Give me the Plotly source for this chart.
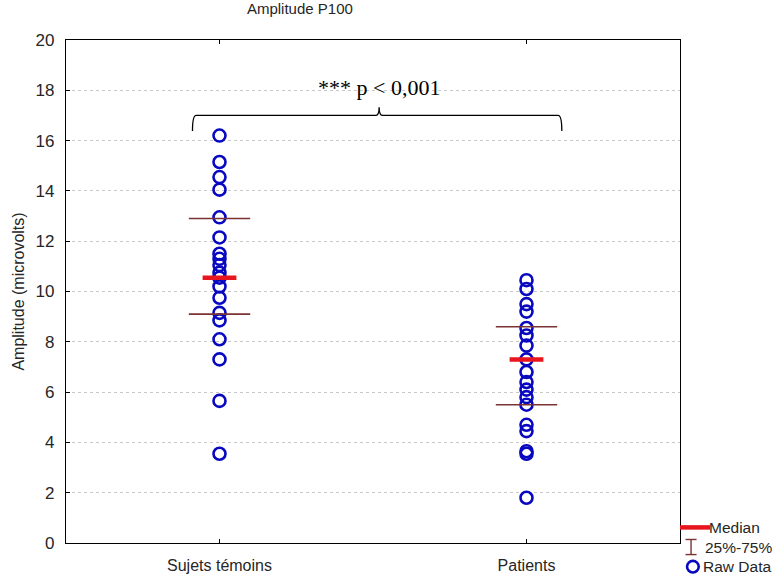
import plotly.graph_objects as go

# ---- data ----
groups = ["Sujets témoins", "Patients"]
temoins = [16.2, 15.15, 14.55, 14.05, 12.95, 12.15, 11.5, 11.3, 11.05, 10.75,
           10.55, 10.2, 9.75, 9.15, 8.85, 8.1, 7.3, 5.65, 3.55]
patients = [10.45, 10.1, 9.5, 9.2, 8.55, 8.25, 7.85, 7.3, 6.8, 6.4, 6.1, 5.8,
            5.5, 4.7, 4.45, 3.65, 3.55, 1.8]
medians = [10.55, 7.3]
q1 = [9.1, 5.5]
q3 = [12.9, 8.6]
yticks = [0, 2, 4, 6, 8, 10, 12, 14, 16, 18, 20]

FONT = "Liberation Sans, Arial, sans-serif"
BLUE = "#0808c0"
RED = "#e8141e"
BROWN = "#7a3232"
TXT = "#262626"

fig = go.Figure()

# raw data
for i, vals in enumerate([temoins, patients]):
    fig.add_trace(go.Scatter(
        x=[i] * len(vals), y=vals, mode="markers",
        marker=dict(symbol="circle-open", size=12, color=BLUE,
                    line=dict(width=2.6, color=BLUE)),
        showlegend=False, hoverinfo="y"))

# quartile lines and medians
half_q = 0.1
half_m = 0.055
for i in range(len(groups)):
    for q in (q1[i], q3[i]):
        fig.add_trace(go.Scatter(
            x=[i - half_q, i + half_q], y=[q, q], mode="lines",
            line=dict(color=BROWN, width=1.6), showlegend=False, hoverinfo="y"))
    fig.add_trace(go.Scatter(
        x=[i - half_m, i + half_m], y=[medians[i], medians[i]], mode="lines",
        line=dict(color=RED, width=4.5), showlegend=False, hoverinfo="y"))

# significance brace
x0, x1, xm = -0.088, 1.115, 0.52
yb, yt, yp = 16.38, 17.0, 17.33
r = 0.012
path = (f"M {x0},{yb} Q {x0},{yt} {x0 + r},{yt} L {xm - r},{yt} "
        f"Q {xm},{yt} {xm},{yp} Q {xm},{yt} {xm + r},{yt} "
        f"L {x1 - r},{yt} Q {x1},{yt} {x1},{yb}")
fig.add_shape(type="path", path=path, xref="x", yref="y",
              line=dict(color="black", width=1.3))
fig.add_annotation(x=xm, y=18.1, xref="x", yref="y", yanchor="middle",
                   text="*** p < 0,001", showarrow=False,
                   font=dict(family="Liberation Serif, Times New Roman, serif",
                             size=22, color="black"))

# legend drawn at the lower right
LFS = 15.5
y_med, y_iq, y_raw = 0.031, -0.008, -0.047
fig.add_shape(type="line", xref="paper", yref="paper", x0=1.0, x1=1.049,
              y0=y_med, y1=y_med, line=dict(color=RED, width=4.5))
fig.add_annotation(xref="paper", yref="paper", x=1.044, y=y_med,
                   xanchor="left", yanchor="middle", text="Median",
                   showarrow=False, font=dict(family=FONT, size=LFS, color=TXT))
# I-beam icon
ib_x = 1.018
fig.add_shape(type="line", xref="paper", yref="paper", x0=ib_x, x1=ib_x,
              y0=y_iq - 0.015, y1=y_iq + 0.015, line=dict(color=BROWN, width=1.4))
for yy in (y_iq - 0.015, y_iq + 0.015):
    fig.add_shape(type="line", xref="paper", yref="paper", x0=ib_x - 0.009,
                  x1=ib_x + 0.009, y0=yy, y1=yy, line=dict(color=BROWN, width=1.4))
fig.add_annotation(xref="paper", yref="paper", x=1.037, y=y_iq,
                   xanchor="left", yanchor="middle", text="25%-75%",
                   showarrow=False, font=dict(family=FONT, size=LFS, color=TXT))
cx = 1.021
fig.add_shape(type="circle", xref="paper", yref="paper",
              x0=cx - 0.0095, x1=cx + 0.0095, y0=y_raw - 0.0115, y1=y_raw + 0.0115,
              line=dict(color=BLUE, width=2.6))
fig.add_annotation(xref="paper", yref="paper", x=1.035, y=y_raw,
                   xanchor="left", yanchor="middle", text="Raw Data",
                   showarrow=False, font=dict(family=FONT, size=LFS, color=TXT))

fig.update_layout(
    width=783, height=586,
    margin=dict(l=66, r=103, t=40, b=33),
    paper_bgcolor="white", plot_bgcolor="white",
    title=dict(text="Amplitude P100", x=0.383, xanchor="center", y=0.994,
               yanchor="top", font=dict(family=FONT, size=15, color=TXT)),
    font=dict(family=FONT, size=16, color=TXT),
    showlegend=False,
)
fig.update_xaxes(
    range=[-0.5, 1.5], tickvals=[0, 1], ticktext=groups,
    ticks="inside", ticklen=4, tickcolor="black",
    showline=True, linecolor="black", linewidth=1.2, mirror="ticks",
    showgrid=False, zeroline=False, ticklabelstandoff=8,
    tickfont=dict(family=FONT, size=16, color=TXT))
fig.update_yaxes(
    range=[0, 20], tickvals=yticks,
    ticks="inside", ticklen=4, tickcolor="black",
    showline=True, linecolor="black", linewidth=1.2, mirror=True,
    showgrid=True, gridcolor="#c8c8c8", griddash="dot", gridwidth=1,
    zeroline=False, ticklabelstandoff=7,
    title=dict(text="Amplitude (microvolts)", standoff=6,
               font=dict(family=FONT, size=16, color=TXT)),
    tickfont=dict(family=FONT, size=17, color=TXT))

# remove the default page margin so the 783x586 figure fills the window exactly
fig.write_html("out.html",
               config={"displayModeBar": False},
               post_script="document.body.style.margin='0';"
                           "document.body.style.overflow='hidden';"
                           "document.documentElement.style.overflow='hidden';")
